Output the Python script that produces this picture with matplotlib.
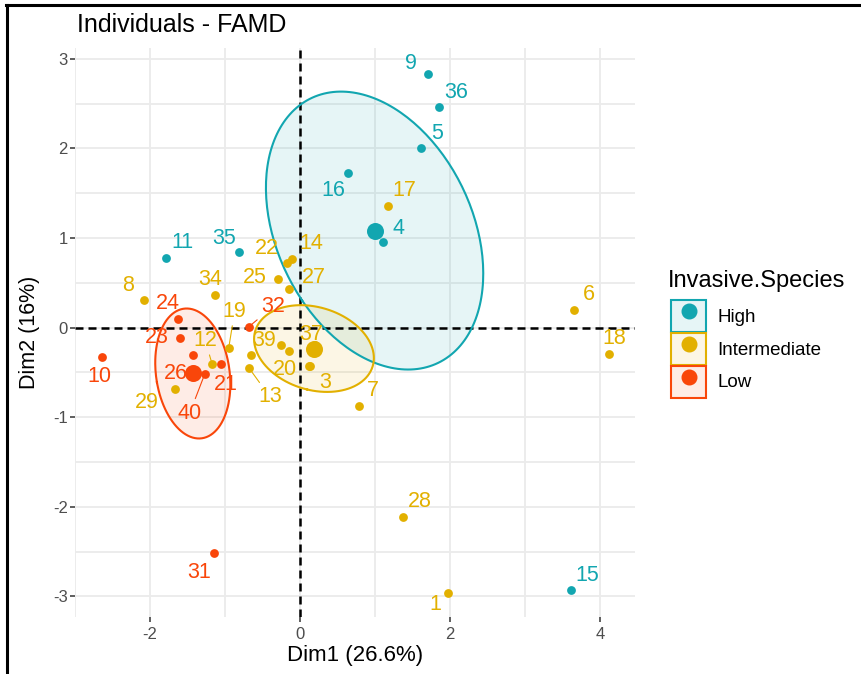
import numpy as np
import matplotlib
matplotlib.use("Agg")
import matplotlib.pyplot as plt
from matplotlib.patches import Rectangle
from matplotlib.lines import Line2D
from matplotlib.colors import to_rgba

plt.rcParams['font.family'] = ['Liberation Sans', 'DejaVu Sans']
plt.rcParams['axes.unicode_minus'] = False

# individuals coordinates (Dim1, Dim2)
high_labels = ["9", "36", "5", "16", "4", "11", "35", "15"]
high_x = [1.71, 1.86, 1.62, 0.64, 1.11, -1.78, -0.81, 3.62]
high_y = [2.83, 2.46, 2.00, 1.73, 0.95, 0.78, 0.84, -2.93]

inter_labels = ["1", "3", "6", "7", "8", "12", "13", "14", "17", "18", "19",
                "20", "22", "25", "27", "28", "29", "34", "37", "39", "", ""]
inter_x = [1.98, 0.13, 3.66, 0.79, -2.08, -1.17, -0.68, -0.10, 1.17, 4.12, -0.95,
           0.12, -0.17, -0.29, -0.14, 1.38, -1.66, -1.13, 0.20, -0.25, -0.65, -0.15]
inter_y = [-2.96, -0.43, 0.20, -0.87, 0.31, -0.41, -0.45, 0.77, 1.36, -0.29, -0.23,
           -0.43, 0.72, 0.54, 0.43, -2.11, -0.69, 0.36, -0.20, -0.20, -0.31, -0.26]

low_labels = ["10", "24", "23", "26", "40", "21", "32", "31"]
low_x = [-2.64, -1.62, -1.60, -1.43, -1.27, -1.05, -0.68, -1.14]
low_y = [-0.33, 0.10, -0.12, -0.31, -0.52, -0.41, 0.01, -2.52]

groups = ["High", "Intermediate", "Low"]
colors = ["#12A6B0", "#E2B000", "#F9460A"]

# label offsets in pixels (repel placement)
offsets = {
    "9": (-17, 10), "36": (17, 15), "5": (16, 15), "16": (-15, -18), "4": (15, 14),
    "11": (16, 15), "35": (-15, 14), "15": (16, 15),
    "1": (-13, -12), "3": (16, -16), "6": (15, 15), "7": (14, 15), "8": (-16, 14),
    "12": (-7, 24), "13": (21, -29), "14": (19, 15), "17": (17, 15), "18": (5, 15),
    "19": (6, 37), "20": (-24, -3), "22": (-20, 15), "25": (-23, 2), "27": (24, 12),
    "28": (16, 15), "29": (-29, -13), "34": (-5, 16), "37": (-4, 11), "39": (-17, 5),
    "10": (-3, -19), "24": (-11, 15), "23": (-23, 1), "26": (-17, -18), "40": (-15, -39),
    "21": (5, -20), "32": (24, 20), "31": (-15, -19),
}
leader = {"19", "12", "13", "40", "32"}


def conf_ellipse(x, y, level=0.95, npts=200):
    x, y = np.asarray(x), np.asarray(y)
    cov = np.cov(x, y) / len(x)
    t = np.sqrt(-2 * np.log(1 - level))
    vals, vecs = np.linalg.eigh(cov)
    th = np.linspace(0, 2 * np.pi, npts)
    circ = np.vstack([np.cos(th), np.sin(th)])
    pts = vecs @ (np.sqrt(vals)[:, None] * circ) * t
    return x.mean() + pts[0], y.mean() + pts[1]


W, H = 861, 674
fig = plt.figure(figsize=(W / 100, H / 100), dpi=100)
ax = fig.add_axes([75 / W, 1 - 617 / H, (635 - 75) / W, (617 - 48) / H])

data = [(high_labels, high_x, high_y), (inter_labels, inter_x, inter_y),
        (low_labels, low_x, low_y)]

for (labs, xs, ys), col in zip(data, colors):
    ex, ey = conf_ellipse(xs, ys)
    ax.fill(ex, ey, color=col, alpha=0.1, lw=0, zorder=2)
    ax.plot(ex, ey, color=col, lw=1.5, zorder=3)

ax.axhline(0, color="black", ls=(0, (3.2, 2.0)), lw=1.8, zorder=2.5)
ax.axvline(0, color="black", ls=(0, (3.2, 2.0)), lw=1.8, zorder=2.5)

for (labs, xs, ys), col in zip(data, colors):
    ax.scatter(xs, ys, s=40, color=col, lw=0, zorder=4)
    ax.scatter([np.mean(xs)], [np.mean(ys)], s=150, color=col, lw=0, zorder=4)
    for lab, x, y in zip(labs, xs, ys):
        if not lab:
            continue
        arrow = None
        if lab in leader:
            arrow = dict(arrowstyle="-", color=col, lw=0.8, shrinkA=1, shrinkB=2)
        ax.annotate(lab, (x, y), xytext=offsets[lab], textcoords="offset pixels",
                    ha="center", va="center", fontsize=15.5, color=col,
                    arrowprops=arrow, zorder=5)

ax.set_xlim(-2.97, 4.47)
ax.set_ylim(-3.23, 3.12)
ax.set_xticks([-2, 0, 2, 4])
ax.set_xticks([-3, -1, 1, 3], minor=True)
ax.set_yticks([-3, -2, -1, 0, 1, 2, 3])
ax.set_yticks(np.arange(-2.5, 3.0, 1.0), minor=True)
ax.grid(which="both", color="#EBEBEB", lw=1.3, zorder=0)
ax.set_axisbelow(True)
for s in ax.spines.values():
    s.set_visible(False)
ax.tick_params(which="major", length=3.6, width=1.1, color="#333333",
               labelsize=12, labelcolor="#4D4D4D")
ax.tick_params(axis="x", pad=3.5)
ax.tick_params(axis="y", pad=1.5)
ax.tick_params(which="minor", length=0)

fig.text(77 / W, 1 - 32 / H, "Individuals - FAMD", fontsize=18, va="baseline", ha="left")
fig.text(355 / W, 1 - 655 / H, "Dim1 (26.6%)", fontsize=16, ha="center", va="center")
fig.text(30 / W, 1 - 332 / H, "Dim2 (16%)", fontsize=15.5, ha="center", va="center",
         rotation=90)

# legend
handles = []
for col in colors:
    box = Rectangle((0, 0), 1, 1, facecolor=to_rgba(col, 0.1), edgecolor=col, lw=1.5)
    dot = Line2D([], [], marker="o", ls="", color=col, markersize=10.5)
    handles.append((box, dot))
fig.text(668 / W, 1 - 281 / H, "Invasive.Species", fontsize=17, ha="left", va="center")
fig.legend(handles, groups, loc="upper left",
           bbox_to_anchor=(671 / W, 1 - 300 / H), frameon=False, fontsize=13.5,
           handlelength=1.87, handleheight=2.24,
           handletextpad=0.62, labelspacing=0.05, borderpad=0, borderaxespad=0)

# screenshot frame lines
fig.add_artist(Line2D([6 / W, 1], [1 - 5 / H, 1 - 5 / H], color="black", lw=2.2))
fig.add_artist(Line2D([7 / W, 7 / W], [0, 1 - 5 / H], color="black", lw=2.2))

fig.savefig("out.png", dpi=100)
